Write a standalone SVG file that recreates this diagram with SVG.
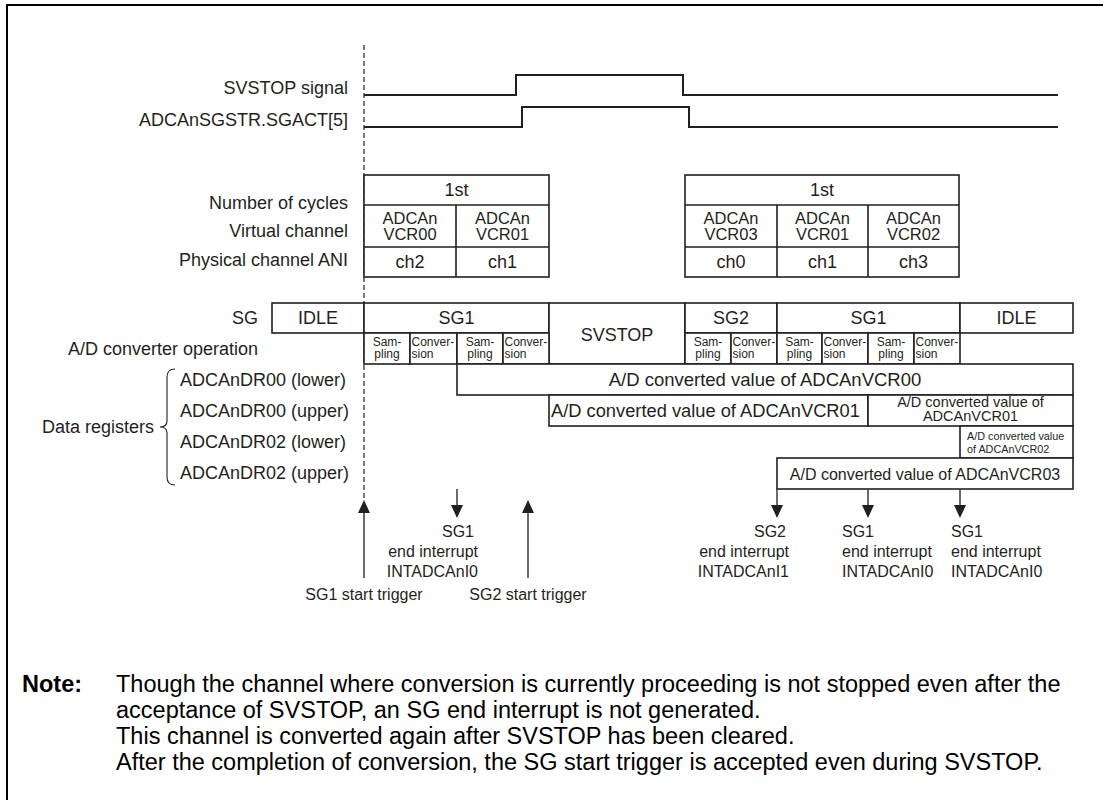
<svg xmlns="http://www.w3.org/2000/svg" width="1103" height="800" viewBox="0 0 1103 800">
<defs>
<style>
text{font-family:"Liberation Sans",Arial,Helvetica,sans-serif;fill:#231f20}
.l{font-size:18px}
.t2{font-size:16.5px}
.c{text-anchor:middle}
.e{text-anchor:end}
.s{font-size:16px}
.sm{font-size:12px}
.box{fill:#fff;stroke:#231f20;stroke-width:1.6}
.sig{fill:none;stroke:#231f20;stroke-width:2}
.ln{fill:none;stroke:#231f20;stroke-width:1.6}
.arr{stroke:#3a3a3a;stroke-width:1.5;fill:none}
.ah{fill:#231f20}
.note{font-size:23.5px;fill:#000}
</style>
</defs>
<rect width="1103" height="800" fill="#fff"/>
<path d="M7,800 V5 H1103" fill="none" stroke="#000" stroke-width="2"/>

<g id="labels">
<text class="l e" x="348" y="94">SVSTOP signal</text>
<text class="l e" x="348" y="126">ADCAnSGSTR.SGACT[5]</text>
<text class="l e" x="348" y="209">Number of cycles</text>
<text class="l e" x="348" y="237">Virtual channel</text>
<text class="l e" x="348" y="266">Physical channel ANI</text>
<text class="l e" x="258" y="324">SG</text>
<text class="l e" x="258" y="355">A/D converter operation</text>
<text class="l" x="180" y="386">ADCAnDR00 (lower)</text>
<text class="l" x="180" y="417">ADCAnDR00 (upper)</text>
<text class="l" x="180" y="448">ADCAnDR02 (lower)</text>
<text class="l" x="180" y="479">ADCAnDR02 (upper)</text>
<text class="l e" x="154" y="433">Data registers</text>
<path d="M175,369 Q167,369 167,377 V421 Q167,427 160,427 Q167,427 167,433 V477 Q167,485 175,485" fill="none" stroke="#231f20" stroke-width="1.1"/>
</g>

<g id="signals">
<line x1="364" y1="45" x2="364" y2="500" stroke="#231f20" stroke-width="1.2" stroke-dasharray="5,3"/>
<polyline class="sig" points="364,95 516,95 516,75 683,75 683,95 1058,95"/>
<polyline class="sig" points="364,127 522,127 522,107 689,107 689,127 1058,127"/>
</g>

<g id="table1">
<rect class="box" x="364" y="175" width="185" height="102"/>
<path class="ln" d="M364,205 H549 M364,247 H549 M456,205 V277"/>
<text class="l c" x="456.5" y="196">1st</text>
<text class="t2 c" x="410" y="224">ADCAn</text>
<text class="t2 c" x="410" y="240">VCR00</text>
<text class="t2 c" x="502.5" y="224">ADCAn</text>
<text class="t2 c" x="502.5" y="240">VCR01</text>
<text class="l c" x="410" y="268">ch2</text>
<text class="l c" x="502.5" y="268">ch1</text>
</g>

<g id="table2">
<rect class="box" x="685" y="175" width="274" height="102"/>
<path class="ln" d="M685,205 H959 M685,247 H959 M777,205 V277 M868,205 V277"/>
<text class="l c" x="822" y="196">1st</text>
<text class="t2 c" x="731" y="224">ADCAn</text>
<text class="t2 c" x="731" y="240">VCR03</text>
<text class="t2 c" x="822.5" y="224">ADCAn</text>
<text class="t2 c" x="822.5" y="240">VCR01</text>
<text class="t2 c" x="913.5" y="224">ADCAn</text>
<text class="t2 c" x="913.5" y="240">VCR02</text>
<text class="l c" x="731" y="268">ch0</text>
<text class="l c" x="822.5" y="268">ch1</text>
<text class="l c" x="913.5" y="268">ch3</text>
</g>

<g id="sg-row">
<rect class="box" x="272" y="303" width="92" height="30"/>
<text class="l c" x="318" y="324">IDLE</text>
<rect class="box" x="364" y="303" width="185" height="30"/>
<text class="l c" x="456.5" y="324">SG1</text>
<rect class="box" x="549" y="303" width="136" height="61"/>
<text class="l c" x="617" y="341">SVSTOP</text>
<rect class="box" x="685" y="303" width="92" height="30"/>
<text class="l c" x="731" y="324">SG2</text>
<rect class="box" x="777" y="303" width="183" height="30"/>
<text class="l c" x="868.5" y="324">SG1</text>
<rect class="box" x="960" y="303" width="113" height="30"/>
<text class="l c" x="1016.5" y="324">IDLE</text>
</g>

<g id="ad-operation">
<rect class="box" x="364" y="333" width="46" height="31"/>
<rect class="box" x="410" y="333" width="47" height="31"/>
<rect class="box" x="457" y="333" width="46" height="31"/>
<rect class="box" x="503" y="333" width="46" height="31"/>
<rect class="box" x="685" y="333" width="46" height="31"/>
<rect class="box" x="731" y="333" width="46" height="31"/>
<rect class="box" x="777" y="333" width="45" height="31"/>
<rect class="box" x="822" y="333" width="46" height="31"/>
<rect class="box" x="868" y="333" width="46" height="31"/>
<rect class="box" x="914" y="333" width="46" height="31"/>
<text class="sm c" x="387" y="346">Sam-</text><text class="sm c" x="387" y="358">pling</text>
<text class="sm" x="411.5" y="346">Conver-</text><text class="sm" x="411.5" y="358">sion</text>
<text class="sm c" x="480" y="346">Sam-</text><text class="sm c" x="480" y="358">pling</text>
<text class="sm" x="504.5" y="346">Conver-</text><text class="sm" x="504.5" y="358">sion</text>
<text class="sm c" x="708" y="346">Sam-</text><text class="sm c" x="708" y="358">pling</text>
<text class="sm" x="732.5" y="346">Conver-</text><text class="sm" x="732.5" y="358">sion</text>
<text class="sm c" x="799.5" y="346">Sam-</text><text class="sm c" x="799.5" y="358">pling</text>
<text class="sm" x="823.5" y="346">Conver-</text><text class="sm" x="823.5" y="358">sion</text>
<text class="sm c" x="891" y="346">Sam-</text><text class="sm c" x="891" y="358">pling</text>
<text class="sm" x="915.5" y="346">Conver-</text><text class="sm" x="915.5" y="358">sion</text>
</g>

<g id="data-registers">
<rect class="box" x="457" y="364" width="616" height="31"/>
<text class="c" x="765" y="386" font-size="18.5">A/D converted value of ADCAnVCR00</text>
<rect class="box" x="549" y="395" width="319" height="31"/>
<text x="551" y="417" font-size="18.3">A/D converted value of ADCAnVCR01</text>
<rect class="box" x="868" y="395" width="205" height="31"/>
<text class="c" x="970.5" y="407" font-size="14.5">A/D converted value of</text>
<text class="c" x="970.5" y="421" font-size="14.5">ADCAnVCR01</text>
<rect class="box" x="960" y="426" width="113" height="32"/>
<text x="967" y="440" font-size="10.8">A/D converted value</text>
<text x="967" y="453" font-size="10.8">of ADCAnVCR02</text>
<rect class="box" x="777" y="458" width="296" height="31"/>
<text class="c" x="925" y="480" font-size="16">A/D converted value of ADCAnVCR03</text>
</g>

<g id="connectors">
<line class="arr" x1="364" y1="578" x2="364" y2="510"/>
<polygon class="ah" points="364,500 358,513 370,513"/>
<line class="arr" x1="528" y1="578" x2="528" y2="510"/>
<polygon class="ah" points="528,500 522,513 534,513"/>
<line class="arr" x1="457" y1="489" x2="457" y2="508"/>
<polygon class="ah" points="457,518 451,505 463,505"/>
<line class="arr" x1="777" y1="489" x2="777" y2="508"/>
<polygon class="ah" points="777,518 771,505 783,505"/>
<line class="arr" x1="868" y1="489" x2="868" y2="508"/>
<polygon class="ah" points="868,518 862,505 874,505"/>
<line class="arr" x1="960" y1="489" x2="960" y2="508"/>
<polygon class="ah" points="960,518 954,505 966,505"/>
</g>

<g id="trigger-labels">
<text class="s c" x="364" y="600">SG1 start trigger</text>
<text class="s c" x="528" y="600">SG2 start trigger</text>
<text class="s e" x="474" y="537">SG1</text>
<text class="s e" x="478" y="557">end interrupt</text>
<text class="s e" x="478" y="577">INTADCAnI0</text>
<text class="s e" x="786" y="537">SG2</text>
<text class="s e" x="789" y="557">end interrupt</text>
<text class="s e" x="789" y="577">INTADCAnI1</text>
<text class="s" x="842" y="537">SG1</text>
<text class="s" x="842" y="557">end interrupt</text>
<text class="s" x="842" y="577">INTADCAnI0</text>
<text class="s" x="951" y="537">SG1</text>
<text class="s" x="951" y="557">end interrupt</text>
<text class="s" x="951" y="577">INTADCAnI0</text>
</g>

<g id="note">
<text class="note" x="22" y="692" font-weight="bold">Note:</text>
<text class="note" x="116" y="692">Though the channel where conversion is currently proceeding is not stopped even after the</text>
<text class="note" x="116" y="718">acceptance of SVSTOP, an SG end interrupt is not generated.</text>
<text class="note" x="116" y="744">This channel is converted again after SVSTOP has been cleared.</text>
<text class="note" x="116" y="770">After the completion of conversion, the SG start trigger is accepted even during SVSTOP.</text>
</g>
</svg>
